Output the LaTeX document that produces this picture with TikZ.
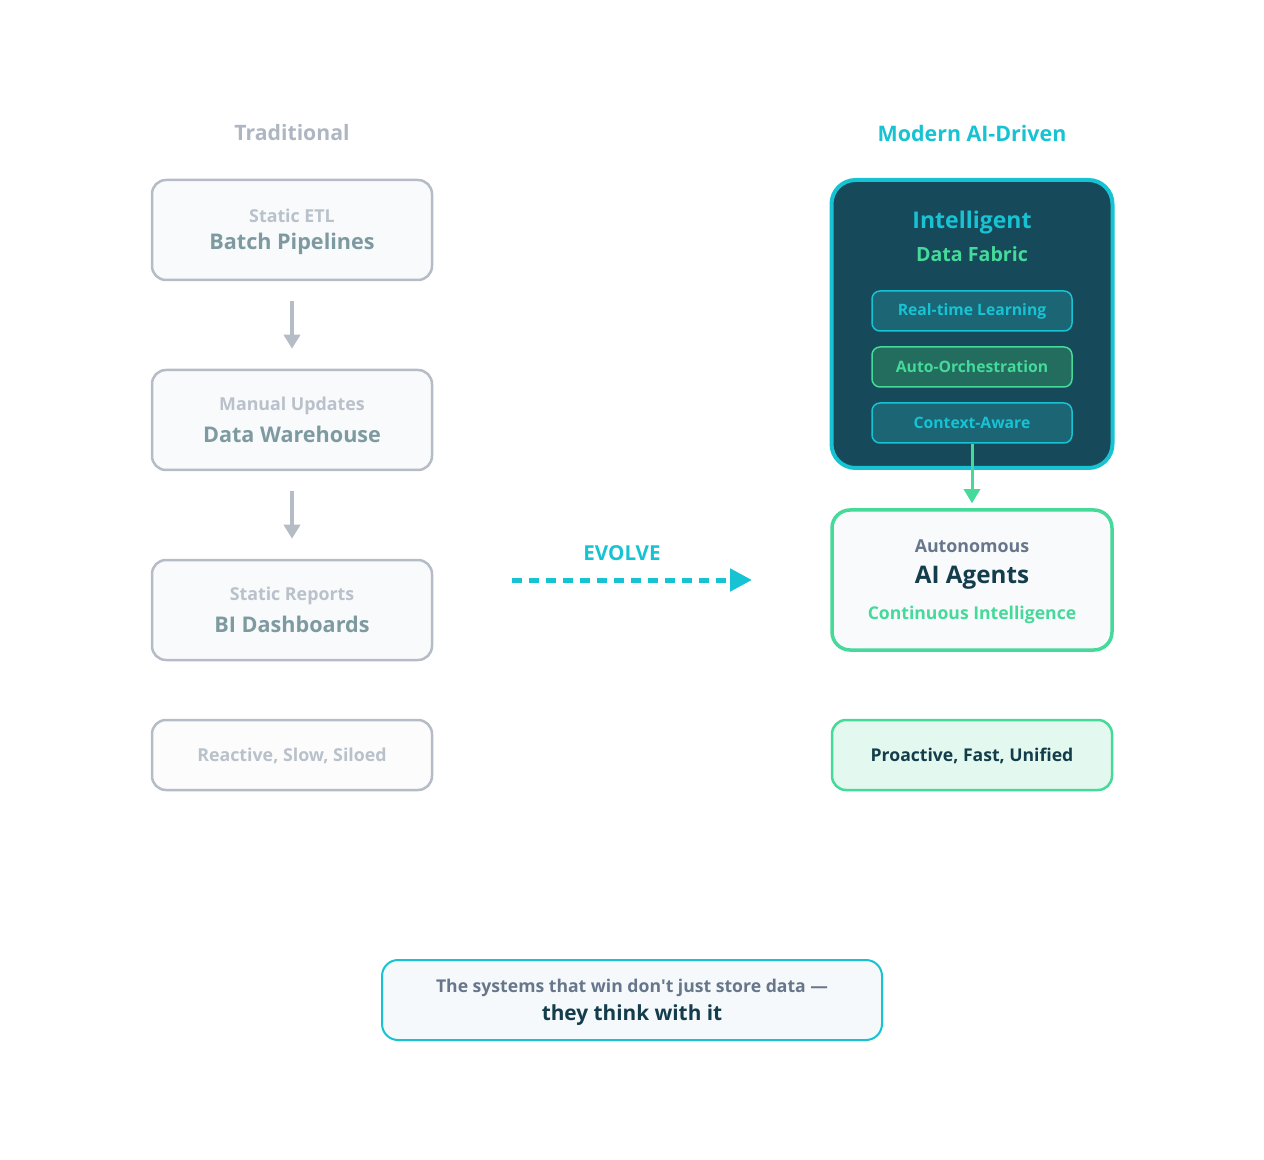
\documentclass[tikz,border=0pt]{standalone}
\usepackage{fontspec}
\setmainfont{Open Sans}
\usetikzlibrary{arrows.meta}
\definecolor{oldline}{HTML}{B5BCC6}
\definecolor{oldfill}{HTML}{F8FAFC}
\definecolor{oldsmall}{HTML}{B9C1CB}
\definecolor{oldbig}{HTML}{7E9AA1}
\definecolor{oldtitle}{HTML}{AEB6C2}
\definecolor{aicyan}{HTML}{17C3D3}
\definecolor{aigreen}{HTML}{45D99A}
\definecolor{aidark}{HTML}{164A5A}
\definecolor{chipfill}{HTML}{1B6575}
\definecolor{chipgreen}{HTML}{236D5F}
\definecolor{navy}{HTML}{143D4C}
\definecolor{slate}{HTML}{67768B}
\definecolor{mint}{HTML}{E3F8EE}
\definecolor{quotefill}{HTML}{F5F9FB}

\begin{document}
\begin{tikzpicture}[x=0.5pt,y=-0.5pt,
	oldbox/.style={draw=oldline,line width=1.25pt,fill=oldfill,rounded corners=7pt,minimum width=140pt,minimum height=50pt},
	newbox/.style={draw=aigreen,line width=1.75pt,fill=oldfill,rounded corners=9pt,minimum width=140pt},
	chip/.style={draw=aicyan,line width=0.75pt,fill=chipfill,rounded corners=4pt,minimum width=100pt,minimum height=20pt,text=aicyan,font=\bfseries\fontsize{7.85}{9}\selectfont},
	small/.style={font=\bfseries\fontsize{8.9}{10}\selectfont},
	big/.style={font=\bfseries\fontsize{10.8}{12}\selectfont},
	oldarrow/.style={draw=oldline,line width=1.75pt,-{Triangle[length=7pt,width=8pt]}}]
	\useasboundingbox (0,0) rectangle (1264,1160);
	% left column
	\node (t1) at (292,133) [text=oldtitle,font=\bfseries\fontsize{10.6}{12}\selectfont] {Traditional};
	\node[oldbox] (1) at (292,230) {};
	\node[oldbox] (2) at (292,420) {};
	\node[oldbox] (3) at (292,610) {};
	\node[oldbox,fill=oldfill!60!oldline!10,minimum height=35pt] (4) at (292,755) {};
	\node[small,text=oldsmall] (1a) at (292,216) {Static ETL};
	\node[big,text=oldbig] (1b) at (292,244) {Batch Pipelines};
	\node[small,text=oldsmall] (2a) at (292,406) {Manual Updates};
	\node[big,text=oldbig] (2b) at (292,434) {Data Warehouse};
	\node[small,text=oldsmall] (3a) at (292,596) {Static Reports};
	\node[big,text=oldbig] (3b) at (292,624) {BI Dashboards};
	\node[small,text=oldsmall] (4a) at (292,756) {Reactive, Slow, Siloed};
	\draw[oldarrow,shorten <=10pt,shorten >=10pt] (1) -- (2);
	\draw[oldarrow,shorten <=10pt,shorten >=10pt] (2) -- (3);
	% right column
	\node (t2) at (972,133) [text=aicyan,font=\bfseries\fontsize{10.7}{12}\selectfont] {Modern AI-Driven};
	\node[draw=aicyan,line width=2pt,fill=aidark,rounded corners=12pt,minimum width=140.5pt,minimum height=144pt] (5) at (972,324) {};
	\node (5a) at (972,223) [text=aicyan,font=\bfseries\fontsize{11.5}{14}\selectfont] {Intelligent};
	\node (5b) at (972,254) [text=aigreen,font=\bfseries\fontsize{9.8}{11}\selectfont] {Data Fabric};
	\node[chip] (c1) at (972,311) {Real-time Learning};
	\node[chip,draw=aigreen,fill=chipgreen,text=aigreen] (c2) at (972,367) {Auto-Orchestration};
	\node[chip] (c3) at (972,423) {Context-Aware};
	\node[newbox,minimum height=70pt] (6) at (972,580) {};
	\node[small,text=slate] (6a) at (972,546) {Autonomous};
	\node[text=navy,font=\bfseries\fontsize{12.1}{13}\selectfont] (6b) at (972,578) {AI Agents};
	\node[text=aigreen,font=\bfseries\fontsize{8.8}{10}\selectfont] (6c) at (972,615) {Continuous Intelligence};
	\node[newbox,line width=1.25pt,fill=mint,rounded corners=7pt,minimum height=35pt] (7) at (972,755) {};
	\node[text=navy,font=\bfseries\fontsize{8.8}{10}\selectfont] (7a) at (972,756) {Proactive, Fast, Unified};
	\draw[draw=aigreen,line width=1.5pt,-{Triangle[length=7pt,width=8pt]},shorten >=2.5pt] (c3) -- (6);
	% evolve
	\coordinate (e1) at (512,580);
	\coordinate (e2) at (752,580);
	\node (ev) at (622,553) [text=aicyan,font=\bfseries\fontsize{10.3}{11}\selectfont] {EVOLVE};
	\draw[draw=aicyan,line width=2.5pt,dash pattern=on 5pt off 3.5pt,-{Triangle[length=11pt,width=11pt]}] (e1) -- (e2);
	% quote
	\node[draw=aicyan,line width=1pt,fill=quotefill,rounded corners=8pt,minimum width=250pt,minimum height=40pt] (q) at (632,1000) {};
	\node[text=slate,font=\bfseries\fontsize{8.8}{10}\selectfont] (q1) at (632,988) {The systems that win don\textquotesingle t just store data ---};
	\node[text=navy,font=\bfseries\fontsize{10.4}{12}\selectfont] (q2) at (632,1015) {they think with it};
\end{tikzpicture}
\end{document}
